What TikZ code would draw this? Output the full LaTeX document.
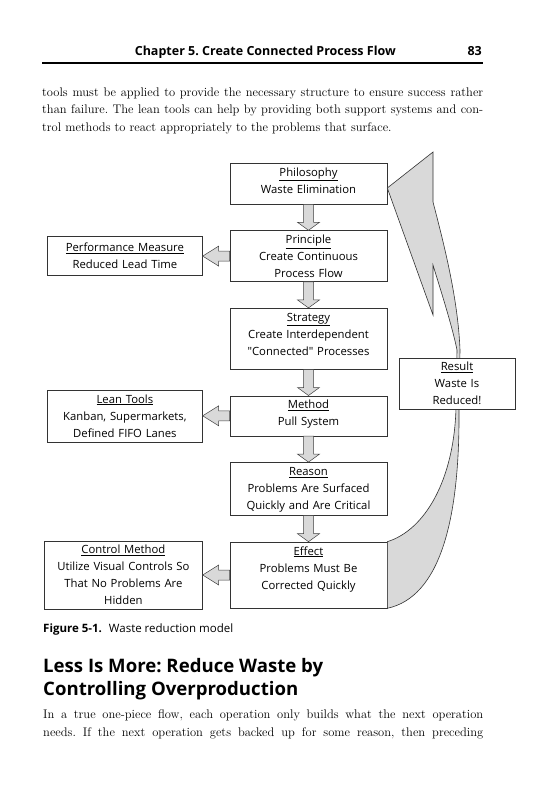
\documentclass[tikz,border=0pt]{standalone}
\usepackage{fontspec}
\newfontfamily\boxfam{Open Sans}
\usepackage{tikz}
\usetikzlibrary{positioning,calc}

\definecolor{arrowgray}{HTML}{D9D9D9}
\newcommand{\boxsize}{\fontsize{11.3pt}{17pt}\selectfont}
\newcommand{\headfont}{\boxfam\bfseries\fontsize{12.5pt}{15pt}\selectfont}
\frenchspacing

\begin{document}
\begin{tikzpicture}[
    x=1pt, y=-1pt,
    node distance=26pt and 27pt,
    box/.style={draw=black!80, fill=white, line width=0.6pt, align=center, font=\boxfam\boxsize, inner xsep=3pt, inner ysep=4pt},
    stepbox/.style={box, text width=151pt, text height=9pt},
    sidebox/.style={box, text width=149pt},
    resultbox/.style={box, text width=110pt, minimum height=49pt},
    blockdown/.style={draw=black!75, fill=arrowgray, line width=0.5pt,
        to path={([xshift=-5pt]\tikztostart) -- ([xshift=-5pt, yshift=8pt]\tikztotarget)
          -- ([xshift=-11pt, yshift=8pt]\tikztotarget) -- (\tikztotarget)
          -- ([xshift=11pt, yshift=8pt]\tikztotarget) -- ([xshift=5pt, yshift=8pt]\tikztotarget)
          -- ([xshift=5pt]\tikztostart) -- cycle}},
    blockleft/.style={draw=black!75, fill=arrowgray, line width=0.5pt,
        to path={([yshift=5pt]\tikztostart) -- ([xshift=16pt, yshift=5pt]\tikztotarget)
          -- ([xshift=16pt, yshift=10pt]\tikztotarget) -- (\tikztotarget)
          -- ([xshift=16pt, yshift=-10pt]\tikztotarget) -- ([xshift=16pt, yshift=-5pt]\tikztotarget)
          -- ([yshift=-5pt]\tikztostart) -- cycle}},
    bigarrow/.style={draw=black!80, fill=arrowgray, line width=0.6pt},
    bodytext/.style={inner sep=0pt, align=left, font=\fontsize{12.5pt}{17.5pt}\selectfont},
]

% Page
\path[use as bounding box, fill=white] (0,0) rectangle (558,800);

% Running head
\node[anchor=base east, inner sep=0pt, font=\headfont] (runhead) at (396,56) {Chapter 5. Create Connected Process Flow};
\node[anchor=base east, inner sep=0pt, font=\headfont] (pageno) at (482,56) {83};
\draw[line width=1.6pt] (42,63) -- (483,63);

% Text above the figure
\node[bodytext, anchor=base west] (intro) at (42,131) {\makebox[441pt][s]{tools must be applied to provide the necessary structure to ensure success rather}\\
    \makebox[441pt][s]{than failure. The lean tools can help by providing both support systems and con-}\\
    trol methods to react appropriately to the problems that surface.};

% Main column
\node[stepbox, text depth=24pt] (phil) at (308.5,183.5) {\underline{Philosophy}\\Waste Elimination};
\node[stepbox, text depth=34pt, below=of phil] (prin) {\underline{Principle}\\Create Continuous\\Process Flow};
\node[stepbox, text depth=44pt, below=of prin] (strat) {\underline{Strategy}\\Create Interdependent\\"Connected" Processes};
\node[stepbox, text depth=23pt, below=of strat] (method) {\underline{Method}\\Pull System};
\node[stepbox, text depth=36pt, below=of method] (reason) {\underline{Reason}\\Problems Are Surfaced\\Quickly and Are Critical};
\node[stepbox, text depth=49pt, below=of reason] (effect) {\underline{Effect}\\Problems Must Be\\Corrected Quickly};

% Side boxes
\node[sidebox, minimum height=39pt, left=of prin] (perf) {\underline{Performance Measure}\\Reduced Lead Time};
\node[sidebox, minimum height=52pt, left=of method] (lean) {\underline{Lean Tools}\\Kanban, Supermarkets,\\Defined FIFO Lanes};
\node[sidebox, text width=152pt, minimum height=66pt, left=of effect] (control) {\underline{Control Method}\\Utilize Visual Controls So\\That No Problems Are\\Hidden};

% Block arrows down the column
\draw[blockdown] (phil.south) to (prin.north);
\draw[blockdown] (prin.south) to (strat.north);
\draw[blockdown] (strat.south) to (method.north);
\draw[blockdown] (method.south) to (reason.north);
\draw[blockdown] (reason.south) to (effect.north);

% Block arrows to the side boxes
\draw[blockleft] (prin.west |- perf.east) to (perf.east);
\draw[blockleft] (method.west |- lean.east) to (lean.east);
\draw[blockleft] (effect.west |- control.east) to (control.east);

% Return arrow from effect back to philosophy
\draw[bigarrow] ([yshift=-4.5pt]phil.east) -- (433,152) -- (433,202)
    .. controls (445,248) and (458,300) .. (460,350) -- (459,408)
    .. controls (460,520) and (440,597) .. (effect.south east)
    -- (effect.north east)
    .. controls (425,530) and (454,480) .. (456,408) -- (457,350)
    .. controls (452,325) and (439,285) .. (433,265)
    -- (433,315) -- cycle;

\node[resultbox] (result) at (457,383.5) {\underline{Result}\\Waste Is\\Reduced!};

% Caption and following text
\node[anchor=base west, inner sep=0pt, font=\boxfam\fontsize{11.5pt}{14pt}\selectfont] (caption) at (43,632) {{\bfseries Figure 5-1.}\hspace{7pt}Waste reduction model};
\node[anchor=base west, inner sep=0pt, align=left, font=\boxfam\bfseries\fontsize{18.6pt}{23pt}\selectfont] (heading) at (43,695) {Less Is More: Reduce Waste by\\Controlling Overproduction};
\node[bodytext, anchor=base west] (para) at (43,736) {\makebox[440pt][s]{In a true one-piece flow, each operation only builds what the next operation}\\
    \makebox[440pt][s]{needs. If the next operation gets backed up for some reason, then preceding}};

\end{tikzpicture}
\end{document}
